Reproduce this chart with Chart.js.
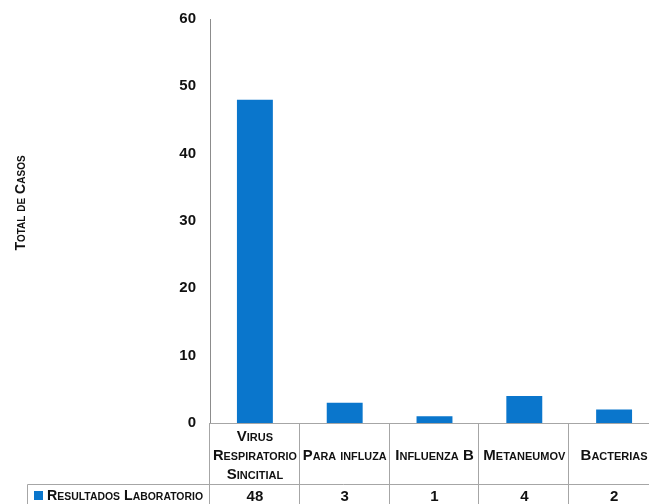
<!DOCTYPE html>
<html>
<head>
<meta charset="utf-8">
<script src="https://cdn.jsdelivr.net/npm/chart.js@4"></script>
<style>
  html, body { margin: 0; padding: 0; overflow: hidden; background: #fff; }
  #wrap { width: 660px; height: 504px; }
</style>
</head>
<body>
<div id="wrap"><canvas id="c" width="660" height="504"></canvas></div>
<script>
// Laboratory results by agent
const categories = [
  ['Virus', 'Respiratorio', 'Sincitial'],
  ['Para influza'],
  ['Influenza B'],
  ['Metaneumov'],
  ['Bacterias']
];
const values = [48, 3, 1, 4, 2];
const seriesName = 'Resultados Laboratorio';
const yTitle = 'Total de Casos';
const yMin = 0, yMax = 60, yStep = 10;

const BLUE = '#0a76cc';
const LINE = '#a6a6a6';
const AXIS = '#8c8c8c';
const FONT_FAMILY = "'Liberation Sans Narrow', 'Arial Narrow', 'Liberation Sans', sans-serif";
const SC = (px) => `small-caps bold ${px}px ${FONT_FAMILY}`;

// Data table under the plot plus the rotated axis title
const dataTable = {
  id: 'dataTable',
  afterDraw(chart) {
    const ctx = chart.ctx;
    const x = chart.scales.x;
    const area = chart.chartArea;
    const H = chart.height;
    const colW = area.width / categories.length;
    const rowTop = area.bottom;
    const rowMid = rowTop + 61;
    const tableLeft = 27;

    ctx.save();
    ctx.strokeStyle = LINE;
    ctx.lineWidth = 1;
    ctx.beginPath();
    // header top border (baseline of the plot)
    ctx.moveTo(area.left, Math.round(rowTop) + 0.5);
    ctx.lineTo(chart.width, Math.round(rowTop) + 0.5);
    // series row top border
    ctx.moveTo(tableLeft + 0.5, rowMid + 0.5);
    ctx.lineTo(chart.width, rowMid + 0.5);
    // left border of series row
    ctx.moveTo(tableLeft + 0.5, rowMid + 0.5);
    ctx.lineTo(tableLeft + 0.5, H);
    // column separators
    for (let i = 0; i < categories.length; i++) {
      const lx = Math.round(x.getPixelForValue(i) - colW / 2) - 0.5;
      ctx.moveTo(lx, rowTop);
      ctx.lineTo(lx, H);
    }
    ctx.stroke();

    // category headers
    ctx.fillStyle = '#111';
    ctx.textAlign = 'center';
    ctx.textBaseline = 'middle';
    ctx.font = SC(15);
    const headMid = (rowTop + rowMid) / 2 + 2;
    const lh = 19;
    categories.forEach((lines, i) => {
      const cx = x.getPixelForValue(i);
      const y0 = headMid - (lines.length - 1) * lh / 2;
      lines.forEach((t, k) => ctx.fillText(t, cx, y0 + k * lh, colW - 6));
    });

    // series row
    const sy = rowMid + 12;
    ctx.fillStyle = BLUE;
    ctx.fillRect(34, sy - 5, 9, 9);
    ctx.fillStyle = '#111';
    ctx.textAlign = 'left';
    ctx.font = SC(15);
    ctx.fillText(seriesName, 47, sy, area.left - 54);
    ctx.font = `bold 15px ${FONT_FAMILY}`;
    ctx.textAlign = 'center';
    values.forEach((v, i) => ctx.fillText(String(v), x.getPixelForValue(i), sy + 1));

    // rotated y title
    ctx.translate(21, 203);
    ctx.rotate(-Math.PI / 2);
    ctx.font = SC(14);
    ctx.textAlign = 'center';
    ctx.textBaseline = 'middle';
    ctx.fillText(yTitle, 0, 0);
    ctx.restore();
  }
};

new Chart(document.getElementById('c'), {
  type: 'bar',
  data: {
    labels: categories,
    datasets: [{
      label: seriesName,
      data: values,
      backgroundColor: BLUE,
      borderWidth: 0,
      barPercentage: 0.4,
      categoryPercentage: 1
    }]
  },
  options: {
    responsive: false,
    animation: false,
    layout: { padding: { top: 19, bottom: 81, left: 0, right: 1 } },
    plugins: { legend: { display: false }, tooltip: { enabled: false } },
    scales: {
      x: { display: false, offset: true },
      y: {
        min: yMin, max: yMax,
        ticks: { stepSize: yStep, padding: 14, color: '#111', font: { family: FONT_FAMILY, size: 15, weight: 'bold' } },
        grid: { display: false, drawTicks: false },
        border: { display: true, color: AXIS, width: 1 },
        afterFit(scale) {
          scale.width = 210;
          scale.paddingTop = 0;
          scale.paddingBottom = 0;
        }
      }
    }
  },
  plugins: [dataTable]
});
</script>
</body>
</html>
